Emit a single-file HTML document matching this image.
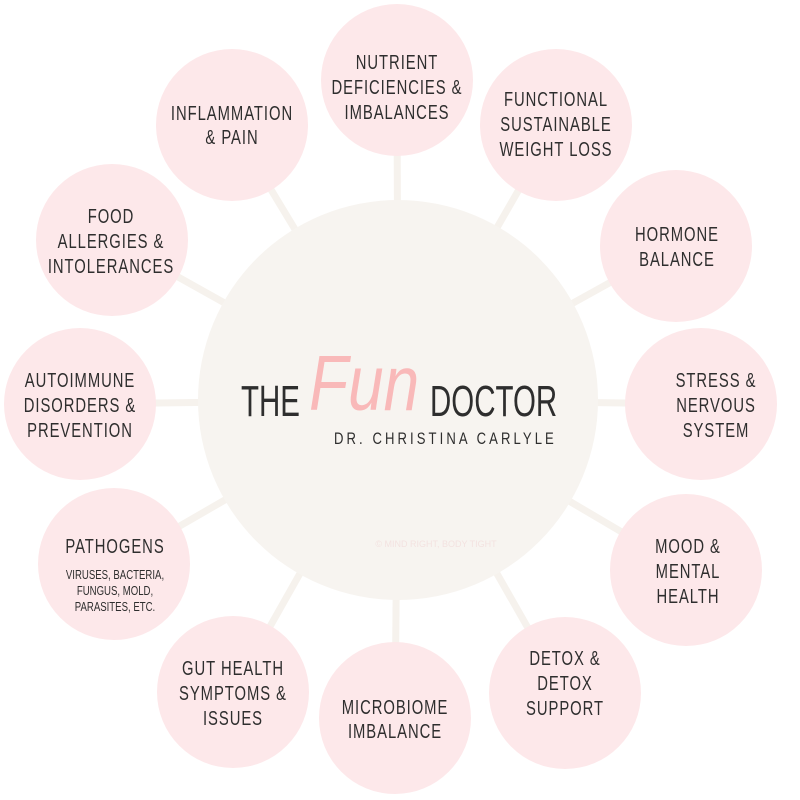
<!DOCTYPE html>
<html><head><meta charset="utf-8"><style>
html,body{margin:0;padding:0;background:#fff;}
svg{display:block;}
text{font-family:"Liberation Sans",sans-serif;fill:#2e2e2e;}
</style></head><body>
<svg width="800" height="800" viewBox="0 0 800 800">
<g stroke="#f6f2ed" stroke-width="7">
<line x1="398" y1="400" x2="397" y2="80"/>
<line x1="398" y1="400" x2="556" y2="125"/>
<line x1="398" y1="400" x2="676" y2="246"/>
<line x1="398" y1="400" x2="701" y2="404"/>
<line x1="398" y1="400" x2="686" y2="570"/>
<line x1="398" y1="400" x2="565" y2="693"/>
<line x1="398" y1="400" x2="395" y2="718"/>
<line x1="398" y1="400" x2="233" y2="692"/>
<line x1="398" y1="400" x2="114" y2="564"/>
<line x1="398" y1="400" x2="80" y2="404"/>
<line x1="398" y1="400" x2="112" y2="240"/>
<line x1="398" y1="400" x2="232" y2="125"/>
</g>
<circle cx="398" cy="400" r="200" fill="#f7f4f0"/>
<g fill="#fde8ea">
<circle cx="397" cy="80" r="76"/>
<circle cx="556" cy="125" r="76"/>
<circle cx="676" cy="246" r="76"/>
<circle cx="701" cy="404" r="76"/>
<circle cx="686" cy="570" r="76"/>
<circle cx="565" cy="693" r="76"/>
<circle cx="395" cy="718" r="76"/>
<circle cx="233" cy="692" r="76"/>
<circle cx="114" cy="564" r="76"/>
<circle cx="80" cy="404" r="76"/>
<circle cx="112" cy="240" r="76"/>
<circle cx="232" cy="125" r="76"/>
</g>
<g font-size="20" text-anchor="middle" letter-spacing="1.3">
<text transform="translate(232,120) scale(0.74,1)">INFLAMMATION</text>
<text transform="translate(232,144) scale(0.74,1)">&amp; PAIN</text>
<text transform="translate(397,69) scale(0.74,1)">NUTRIENT</text>
<text transform="translate(397,94) scale(0.74,1)">DEFICIENCIES &amp;</text>
<text transform="translate(397,119) scale(0.74,1)">IMBALANCES</text>
<text transform="translate(556,106) scale(0.74,1)">FUNCTIONAL</text>
<text transform="translate(556,131) scale(0.74,1)">SUSTAINABLE</text>
<text transform="translate(556,156) scale(0.74,1)">WEIGHT LOSS</text>
<text transform="translate(677,241) scale(0.74,1)">HORMONE</text>
<text transform="translate(677,266) scale(0.74,1)">BALANCE</text>
<text transform="translate(716,387) scale(0.74,1)">STRESS &amp;</text>
<text transform="translate(716,412) scale(0.74,1)">NERVOUS</text>
<text transform="translate(716,437) scale(0.74,1)">SYSTEM</text>
<text transform="translate(688,553) scale(0.74,1)">MOOD &amp;</text>
<text transform="translate(688,578) scale(0.74,1)">MENTAL</text>
<text transform="translate(688,603) scale(0.74,1)">HEALTH</text>
<text transform="translate(565,665) scale(0.74,1)">DETOX &amp;</text>
<text transform="translate(565,690) scale(0.74,1)">DETOX</text>
<text transform="translate(565,715) scale(0.74,1)">SUPPORT</text>
<text transform="translate(395,714) scale(0.74,1)">MICROBIOME</text>
<text transform="translate(395,738) scale(0.74,1)">IMBALANCE</text>
<text transform="translate(233,675) scale(0.74,1)">GUT HEALTH</text>
<text transform="translate(233,700) scale(0.74,1)">SYMPTOMS &amp;</text>
<text transform="translate(233,725) scale(0.74,1)">ISSUES</text>
<text transform="translate(115,553) scale(0.74,1)">PATHOGENS</text>
<text transform="translate(80,387) scale(0.74,1)">AUTOIMMUNE</text>
<text transform="translate(80,412) scale(0.74,1)">DISORDERS &amp;</text>
<text transform="translate(80,437) scale(0.74,1)">PREVENTION</text>
<text transform="translate(111,223) scale(0.74,1)">FOOD</text>
<text transform="translate(111,248) scale(0.74,1)">ALLERGIES &amp;</text>
<text transform="translate(111,273) scale(0.74,1)">INTOLERANCES</text>
</g>
<g font-size="13" text-anchor="middle">
<text transform="translate(115,579) scale(0.74,1)">VIRUSES, BACTERIA,</text>
<text transform="translate(115,595) scale(0.74,1)">FUNGUS, MOLD,</text>
<text transform="translate(115,611) scale(0.74,1)">PARASITES, ETC.</text>
</g>
<text transform="translate(241,416) scale(0.67,1)" font-size="44" fill="#111">THE</text>
<text transform="translate(430,416) scale(0.67,1)" font-size="44" fill="#111">DOCTOR</text>
<text transform="translate(309,410) scale(0.82,1)" font-family="Liberation Serif,serif" font-style="italic" font-size="78" style="fill:#f9b9b9">Fun</text>
<text transform="translate(334,444) scale(0.77,1)" font-size="17" letter-spacing="4" fill="#111">DR. CHRISTINA CARLYLE</text>
<text x="436" y="547" font-size="9" text-anchor="middle" style="fill:#f3e2e0">© MIND RIGHT, BODY TIGHT</text>
</svg>
</body></html>
